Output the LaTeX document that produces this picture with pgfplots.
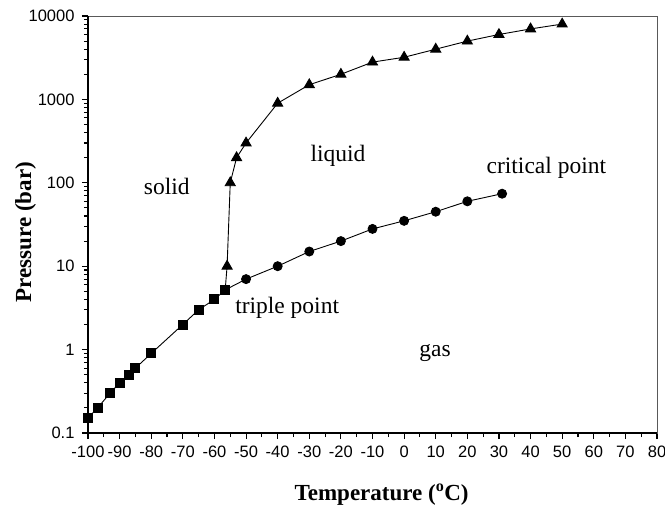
\documentclass[border=0pt]{standalone}
\usepackage{fontspec}
\setmainfont{Liberation Serif}
\newfontfamily\arialfont{Liberation Sans}
\usepackage{pgfplots}
\pgfplotsset{compat=1.18}
\begin{document}
\begin{tikzpicture}
\begin{axis}[
  scale only axis, width=569pt, height=417pt,
  ymode=log, xmin=-100, xmax=80, ymin=0.1, ymax=10000,
  xtick={-100,-90,...,80},
  xticklabels={-100,-90,-80,-70,-60,-50,-40,-30,-20,-10,0,10,20,30,40,50,60,70,80},
  minor xtick={-95,-85,...,75},
  ytick={0.1,1,10,100,1000,10000},
  yticklabels={0.1,1,10,100,1000,10000},
  tick align=outside, tick pos=left,
  major tick length=6pt, minor tick length=4pt,
  tick style={black, line width=1.1pt},
  ticklabel style={font=\arialfont\fontsize{16.5}{17}\selectfont},
  xticklabel style={yshift=-3.5pt},
  yticklabel style={xshift=-4pt},
  axis line style={line width=0.8pt, black!65},
  xlabel={\bfseries Temperature (\textsuperscript{o}C)},
  ylabel={\bfseries Pressure (bar)},
  xlabel style={font=\fontsize{23}{26}\selectfont, at={(axis description cs:0.516,-0.161)}, anchor=base},
  ylabel style={font=\fontsize{23}{26}\selectfont, at={(axis description cs:-0.1,0.482)}, anchor=base},
  clip=false,
]
\draw[line width=2pt, black] (rel axis cs:0,1) -- (rel axis cs:0,0) -- (rel axis cs:1,0);
% sublimation
\addplot[black, line width=0.9pt, mark=square*, mark size=4.5pt] coordinates {
(-100,0.15)(-97,0.2)(-93,0.3)(-90,0.4)(-87,0.5)(-85,0.6)(-80,0.9)(-70,2)(-65,3)(-60,4)(-56.6,5.2)};
% melting
\addplot[black, line width=0.9pt, mark=triangle*, mark size=5.8pt, mark indices={2,3,4,5,6,7,8,9,10,11,12,13,14,15}] coordinates {
(-56.6,5.2)(-56,10)(-55,100)(-53,200)(-50,300)(-40,900)(-30,1500)(-20,2000)(-10,2800)(0,3200)(10,4000)(20,5000)(30,6000)(40,7000)(50,8000)};
% vaporization
\addplot[black, line width=0.9pt, mark=*, mark size=4.5pt, mark indices={2,3,4,5,6,7,8,9,10}] coordinates {
(-56.6,5.2)(-50,7)(-40,10)(-30,15)(-20,20)(-10,28)(0,35)(10,45)(20,60)(31,74)};
\node[anchor=base, font=\fontsize{23.5}{27}\selectfont] at (axis cs:-75.1,72.8) {solid};
\node[anchor=base, font=\fontsize{23.5}{27}\selectfont] at (axis cs:-20.9,179) {liquid};
\node[anchor=base, font=\fontsize{23.5}{27}\selectfont] at (axis cs:45,127.7) {critical point};
\node[anchor=base, font=\fontsize{23.5}{27}\selectfont] at (axis cs:-37,2.72) {triple point};
\node[anchor=base, font=\fontsize{23.5}{27}\selectfont] at (axis cs:9.8,0.837) {gas};
\end{axis}
\pgfresetboundingbox
\path[use as bounding box] ([shift={(-88pt,-73pt)}]current axis.south west) rectangle ([shift={(8pt,16pt)}]current axis.north east);
\end{tikzpicture}
\end{document}
